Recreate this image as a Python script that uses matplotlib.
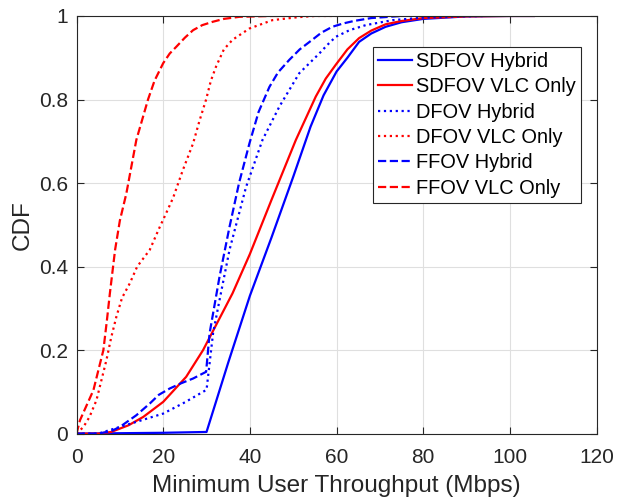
import matplotlib
matplotlib.use('Agg')
import matplotlib.pyplot as plt

plt.rcParams['font.family'] = ['Liberation Sans', 'DejaVu Sans']

# CDF curves (Mbps, CDF)
sdfov_hyb_x = [0, 10, 20, 30, 35, 40, 45, 50, 54, 57, 60, 62.5, 65.2, 68, 71.3, 75, 80, 90, 100, 105.5]
sdfov_hyb_y = [0, 0.001, 0.002, 0.004, 0.17, 0.33, 0.47, 0.615, 0.735, 0.81, 0.867, 0.9, 0.938, 0.958, 0.974,
               0.985, 0.993, 0.999, 1.0, 1.0]

sdfov_vlc_x = [0, 5, 8, 12, 15.4, 20, 25.3, 29.2, 32.2, 36, 40, 45, 50.6, 55.2, 57.5, 59.8, 62.5, 65.2, 68, 71.3,
               75, 80, 90, 100, 105.5]
sdfov_vlc_y = [0, 0, 0.004, 0.02, 0.04, 0.076, 0.136, 0.2, 0.26, 0.336, 0.43, 0.56, 0.703, 0.807, 0.85, 0.883,
               0.92, 0.947, 0.965, 0.98, 0.988, 0.995, 0.999, 1.0, 1.0]

dfov_hyb_x = [0, 5, 10, 15, 20, 25, 30, 31.5, 33, 35.3, 39.1, 42.9, 46.8, 51.4, 56, 58, 59.8, 63, 66.7, 72.9, 80,
              88, 94.5]
dfov_hyb_y = [0, 0, 0.016, 0.032, 0.048, 0.075, 0.105, 0.24, 0.32, 0.44, 0.59, 0.703, 0.783, 0.863, 0.91, 0.932,
              0.95, 0.966, 0.978, 0.99, 0.996, 0.999, 1.0]

dfov_vlc_x = [0, 1.6, 3, 4.6, 6.9, 8, 9.2, 10.5, 12.3, 14, 16.9, 19, 21, 22.3, 24.5, 26.9, 28.4, 29.9, 31, 32.2,
              34, 36, 39.9, 45.2, 51, 55, 60]
dfov_vlc_y = [0, 0.016, 0.04, 0.08, 0.176, 0.23, 0.28, 0.325, 0.36, 0.4, 0.44, 0.49, 0.535, 0.565, 0.63, 0.695,
              0.75, 0.8, 0.845, 0.879, 0.92, 0.943, 0.97, 0.99, 0.997, 1.0, 1.0]

ffov_hyb_x = [0, 5, 8, 10, 13.8, 16.9, 19, 21.5, 24, 26.9, 29.9, 30.7, 33, 35.3, 37.5, 39.9, 42, 44.5, 46.5, 49.1,
              51.5, 54.4, 56.5, 59, 61.5, 64, 68, 75]
ffov_hyb_y = [0, 0, 0.006, 0.016, 0.044, 0.072, 0.093, 0.108, 0.12, 0.132, 0.148, 0.24, 0.376, 0.495, 0.6, 0.695,
              0.77, 0.83, 0.865, 0.895, 0.92, 0.943, 0.96, 0.974, 0.982, 0.988, 0.995, 1.0]

ffov_vlc_x = [0, 0.8, 2, 3.9, 5, 6.2, 7, 7.7, 8.9, 10, 11.5, 13.8, 16.5, 18, 20, 21.5, 23, 25, 26.9, 29, 31.4, 34,
              37.6, 45, 48]
ffov_vlc_y = [0, 0.032, 0.06, 0.104, 0.15, 0.2, 0.27, 0.336, 0.44, 0.51, 0.575, 0.703, 0.8, 0.845, 0.887, 0.91,
              0.926, 0.948, 0.966, 0.978, 0.986, 0.993, 0.998, 1.0, 1.0]

labels = ['SDFOV Hybrid', 'SDFOV VLC Only', 'DFOV Hybrid', 'DFOV VLC Only', 'FFOV Hybrid', 'FFOV VLC Only']

dark = '#262626'
fig = plt.figure(figsize=(6.17, 4.99), dpi=100)
ax = fig.add_axes([0.124, 0.131, 0.843, 0.837])

lw = 1.6
ax.plot(sdfov_hyb_x, sdfov_hyb_y, '-', color='b', lw=lw, label=labels[0])
ax.plot(sdfov_vlc_x, sdfov_vlc_y, '-', color='r', lw=lw, label=labels[1])
ax.plot(dfov_hyb_x, dfov_hyb_y, ':', color='b', lw=lw, label=labels[2])
ax.plot(dfov_vlc_x, dfov_vlc_y, ':', color='r', lw=lw, label=labels[3])
ax.plot(ffov_hyb_x, ffov_hyb_y, '--', color='b', lw=lw, label=labels[4])
ax.plot(ffov_vlc_x, ffov_vlc_y, '--', color='r', lw=lw, label=labels[5])

ax.set_xlim(0, 120)
ax.set_ylim(0, 1)
ax.set_xticks(range(0, 121, 20))
ax.set_yticks([0, 0.2, 0.4, 0.6, 0.8, 1])
ax.set_yticklabels(['0', '0.2', '0.4', '0.6', '0.8', '1'])
ax.grid(True, color='#dfdfdf', lw=0.8)
ax.set_axisbelow(True)
ax.tick_params(direction='in', length=5, width=0.8, color=dark, labelcolor=dark, labelsize=15,
               top=True, right=True, pad=6)
ax.tick_params(axis='x', pad=10)
for s in ax.spines.values():
    s.set_color(dark)
    s.set_linewidth(0.8)

ax.set_xlabel('Minimum User Throughput (Mbps)', fontsize=17.5, color=dark, labelpad=6)
ax.set_ylabel('CDF', fontsize=17.5, color=dark, labelpad=4)

leg = ax.legend(loc='upper right', bbox_to_anchor=(0.970, 0.926), fontsize=14.4, frameon=True, fancybox=False,
                edgecolor=dark, framealpha=1, handlelength=1.7, handletextpad=0.2, labelspacing=0.32,
                borderpad=0.25, borderaxespad=0)
leg.get_frame().set_linewidth(0.8)

fig.savefig('out.png', dpi=100)
